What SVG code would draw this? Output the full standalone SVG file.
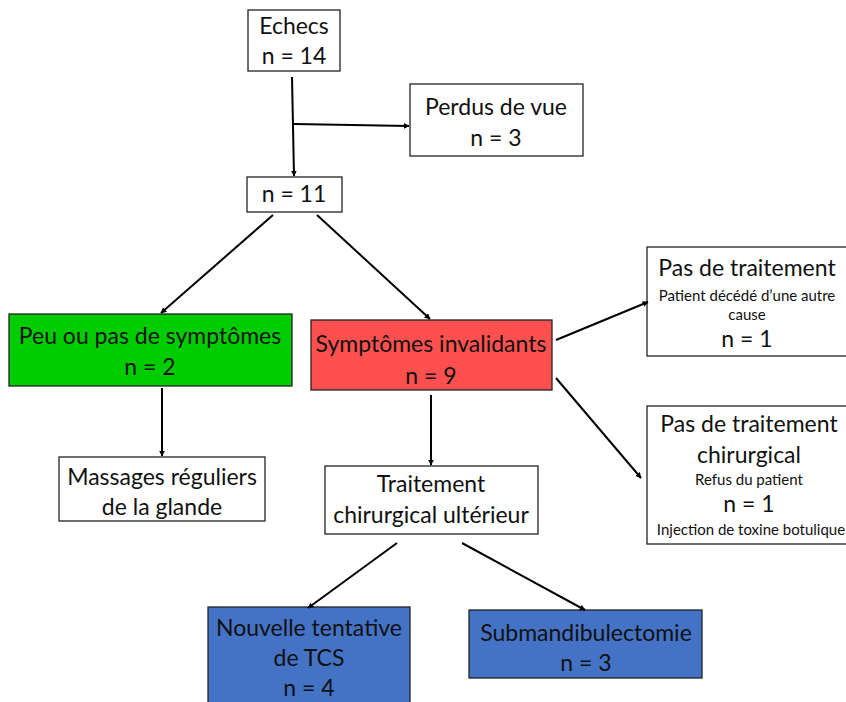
<svg xmlns="http://www.w3.org/2000/svg" width="846" height="702" viewBox="0 0 846 702">
<defs>
<marker id="ah" viewBox="0 0 10 10" refX="9" refY="5" markerWidth="6" markerHeight="6" orient="auto" markerUnits="userSpaceOnUse">
<path d="M0,0 L10,5 L0,10 z" fill="#000"/>
</marker>
<style>
.box{stroke:#222;stroke-width:1.3}
.w{fill:#fff}
.g{fill:#00cc00}
.r{fill:#ff5050}
.b{fill:#4472c4}
text{font-family:Lato,"Liberation Sans",sans-serif;font-size:23px;fill:#111;text-anchor:middle}
text.s{font-size:15px}
.c line{stroke:#000;stroke-width:2;marker-end:url(#ah)}
</style>
</defs>
<rect width="846" height="702" fill="#fff"/>
<g id="echecs"><rect class="box w" x="248" y="10" width="92" height="61"/><text x="294" y="34">Echecs</text><text x="294" y="64">n = 14</text></g>
<g id="perdus"><rect class="box w" x="410" y="84" width="173" height="72"/><text x="496" y="115">Perdus de vue</text><text x="496" y="146">n = 3</text></g>
<g id="n11"><rect class="box w" x="247" y="177" width="95" height="35"/><text x="294" y="202">n = 11</text></g>
<g id="peu"><rect class="box g" x="9" y="314" width="283" height="72"/><text x="150" y="344">Peu ou pas de symptômes</text><text x="150" y="375">n = 2</text></g>
<g id="invalidants"><rect class="box r" x="311" y="320" width="241" height="70"/><text x="431" y="352">Symptômes invalidants</text><text x="431" y="384">n = 9</text></g>
<g id="massages"><rect class="box w" x="59" y="457" width="206" height="64"/><text x="162" y="485">Massages réguliers</text><text x="162" y="515">de la glande</text></g>
<g id="traitement"><rect class="box w" x="325" y="466" width="213" height="68"/><text x="431" y="492">Traitement</text><text x="431" y="523">chirurgical ultérieur</text></g>
<g id="pasdetrait"><rect class="box w" x="647" y="247" width="202" height="109"/><text x="747" y="276">Pas de traitement</text><text class="s" x="747" y="301">Patient décédé d’une autre</text><text class="s" x="747" y="320">cause</text><text x="747" y="347">n = 1</text></g>
<g id="pasdechir"><rect class="box w" x="647" y="406" width="202" height="138"/><text x="749" y="432">Pas de traitement</text><text x="749" y="463">chirurgical</text><text class="s" x="749" y="485">Refus du patient</text><text x="749" y="512">n = 1</text><text class="s" x="751" y="535">Injection de toxine botulique</text></g>
<g id="nouvelle"><rect class="box b" x="208" y="607" width="202" height="100"/><text x="309" y="636">Nouvelle tentative</text><text x="309" y="666">de TCS</text><text x="309" y="696">n = 4</text></g>
<g id="submand"><rect class="box b" x="469" y="610" width="233" height="68"/><text x="586" y="641">Submandibulectomie</text><text x="586" y="671">n = 3</text></g>
<g class="c" id="connectors">
<line x1="292" y1="77" x2="294" y2="176"/>
<line x1="294" y1="124" x2="409" y2="126"/>
<line x1="273" y1="215" x2="161" y2="313"/>
<line x1="317" y1="215" x2="430" y2="319"/>
<line x1="162" y1="388" x2="162" y2="456"/>
<line x1="431" y1="395" x2="431" y2="465"/>
<line x1="556" y1="340" x2="648" y2="302"/>
<line x1="556" y1="378" x2="641" y2="478"/>
<line x1="397" y1="543" x2="308" y2="608"/>
<line x1="462" y1="543" x2="585" y2="610"/>
</g>
</svg>
